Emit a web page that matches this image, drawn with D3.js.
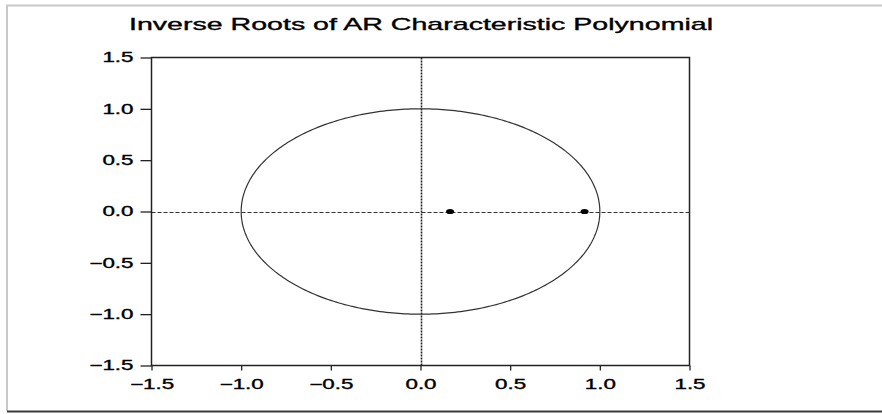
<!DOCTYPE html>
<html>
<head>
<meta charset="utf-8">
<script src="https://cdn.jsdelivr.net/npm/d3@7"></script>
<style>
  html, body { margin: 0; padding: 0; background: #fff; }
  svg { display: block; }
  text { font-family: "Liberation Sans", Arial, sans-serif; fill: #000; stroke: #000; stroke-width: 0.35px; }
</style>
</head>
<body>
<svg id="chart" width="882" height="414"></svg>
<script>
// ---- data ----
const title = "Inverse Roots of AR Characteristic Polynomial";
const rootsReal = [0.165, 0.915];
const rootsImag = [0.0, 0.0];
const xTicks = [-1.5, -1.0, -0.5, 0.0, 0.5, 1.0, 1.5];
const yTicks = [-1.5, -1.0, -0.5, 0.0, 0.5, 1.0, 1.5];
const domain = [-1.5, 1.5];

// ---- layout ----
const W = 882, H = 414;
const plot = { left: 151.5, right: 689.5, top: 57.5, bottom: 365.5 };
const sx = 1.6; // horizontal stretch of text in the reference

const svg = d3.select("#chart");

// outer frame
svg.append("line").attr("x1", 6).attr("x2", W).attr("y1", 5.5).attr("y2", 5.5)
  .attr("stroke", "#c8c8c8").attr("stroke-width", 2);
svg.append("line").attr("x1", 7).attr("x2", 7).attr("y1", 5).attr("y2", 411)
  .attr("stroke", "#c8c8c8").attr("stroke-width", 2);
svg.append("line").attr("x1", 7).attr("x2", W).attr("y1", 411.5).attr("y2", 411.5)
  .attr("stroke", "#3a3a3a").attr("stroke-width", 2);

const x = d3.scaleLinear().domain(domain).range([plot.left, plot.right]);
const y = d3.scaleLinear().domain(domain).range([plot.bottom, plot.top]);
const fmt = d3.format(".1f");

// title
svg.append("text")
  .attr("x", 129).attr("y", 29.5)
  .attr("font-size", 17)
  .attr("textLength", 584)
  .attr("lengthAdjust", "spacingAndGlyphs")
  .text(title);

// zero lines
svg.append("line")
  .attr("x1", x(domain[0])).attr("x2", x(domain[1]))
  .attr("y1", Math.round(y(0)) + 0.5).attr("y2", Math.round(y(0)) + 0.5)
  .attr("stroke", "#333").attr("stroke-width", 1.2).attr("stroke-dasharray", "4,2");
svg.append("line")
  .attr("x1", Math.round(x(0)) + 0.5).attr("x2", Math.round(x(0)) + 0.5)
  .attr("y1", y(domain[1])).attr("y2", y(domain[0]))
  .attr("stroke", "#222").attr("stroke-width", 1.6).attr("stroke-dasharray", "2,1");

// unit circle
const angles = d3.range(0, 361, 1).map(d => d * Math.PI / 180);
svg.append("path")
  .datum(angles)
  .attr("fill", "none")
  .attr("stroke", "#333")
  .attr("stroke-width", 1.2)
  .attr("d", d3.line().x(a => x(Math.cos(a))).y(a => y(Math.sin(a))));

// roots
svg.selectAll("ellipse.root")
  .data(rootsReal.map((r, i) => ({ re: r, im: rootsImag[i] })))
  .join("ellipse")
  .attr("class", "root")
  .attr("cx", d => x(d.re))
  .attr("cy", d => y(d.im))
  .attr("rx", 4).attr("ry", 2.6)
  .attr("fill", "#000");

// plot box
svg.append("rect")
  .attr("x", plot.left).attr("y", plot.top)
  .attr("width", plot.right - plot.left).attr("height", plot.bottom - plot.top)
  .attr("fill", "none").attr("stroke", "#222").attr("stroke-width", 1.5);

// y axis
const gy = svg.append("g")
  .attr("transform", `translate(${plot.left},0)`)
  .call(d3.axisLeft(y).tickValues(yTicks).tickFormat(fmt).tickSize(11).tickPadding(7));
gy.select(".domain").remove();
gy.selectAll(".tick line").attr("stroke", "#222").attr("stroke-width", 1.3);
gy.selectAll(".tick text")
  .attr("font-size", 14)
  .attr("font-family", "Liberation Sans, Arial, sans-serif")
  .attr("x", 0)
  .attr("transform", `translate(-18,0) scale(${sx},1)`);

// x axis
const gx = svg.append("g")
  .attr("transform", `translate(0,${plot.bottom})`)
  .call(d3.axisBottom(x).tickValues(xTicks).tickFormat(fmt).tickSize(5).tickPadding(6));
gx.select(".domain").remove();
gx.selectAll(".tick line").attr("stroke", "#222").attr("stroke-width", 1.3);
gx.selectAll(".tick text")
  .attr("font-size", 14)
  .attr("font-family", "Liberation Sans, Arial, sans-serif")
  .attr("y", 0).attr("dy", 0)
  .attr("transform", `translate(0,23.5) scale(${sx},1)`);
</script>
</body>
</html>
